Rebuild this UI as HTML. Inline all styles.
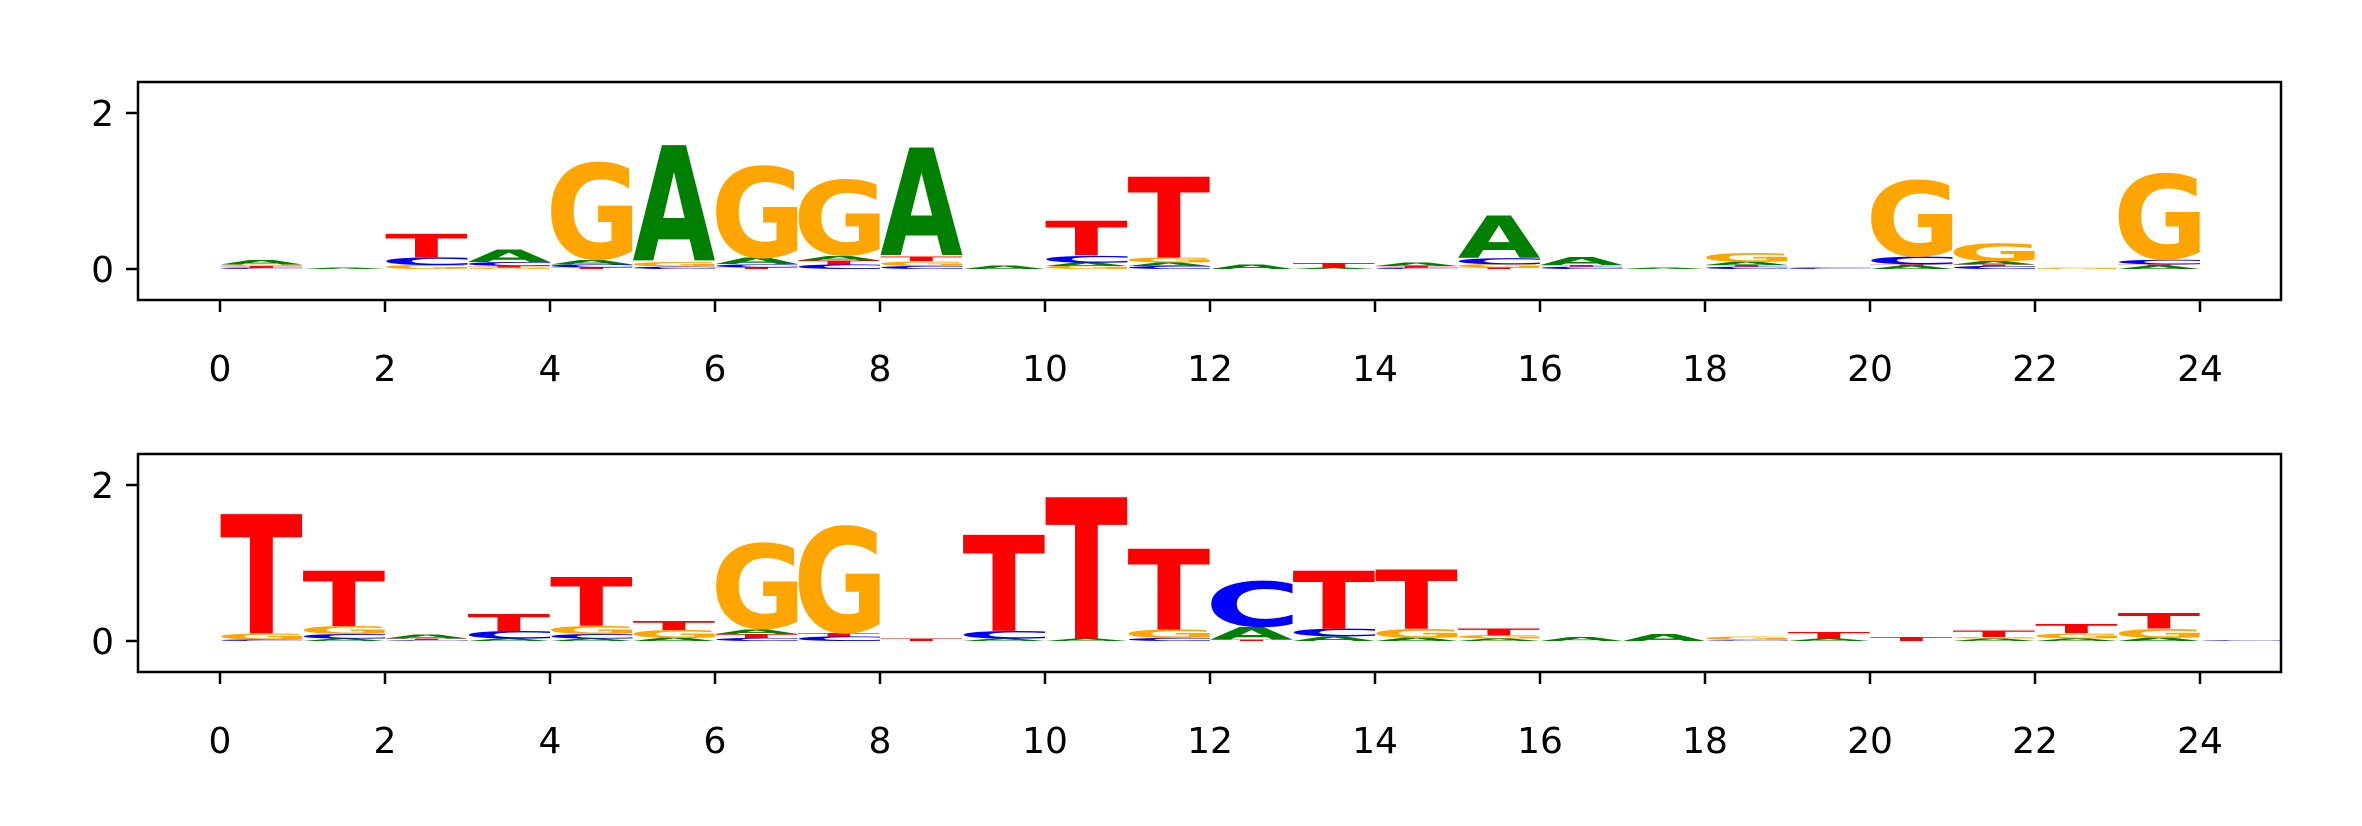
<!DOCTYPE html>
<html><head><meta charset="utf-8"><style>
html,body{margin:0;padding:0;background:#fff;}
svg{display:block;}
text{font-family:"DejaVu Sans","Liberation Sans",sans-serif;}
</style></head><body>
<svg id="chart" width="2362" height="826" viewBox="0 0 2362 826" xmlns="http://www.w3.org/2000/svg">
<rect width="2362" height="826" fill="#fff"/>
</svg>
<script>
// Tick labels
const xTicks = [0,2,4,6,8,10,12,14,16,18,20,22,24];
const yTicks = [0,2];
// Panel 1 stacks (bottom to top): [letter, height in bits]
const logo1 = [
 [["C",0.02],["T",0.02],["G",0.02],["A",0.06]],
 [["A",0.02]],
 [["G",0.05],["C",0.1],["T",0.3]],
 [["G",0.02],["T",0.02],["C",0.05],["A",0.16]],
 [["T",0.02],["C",0.04],["A",0.06],["G",1.27]],
 [["C",0.03],["G",0.06],["A",1.5]],
 [["T",0.02],["C",0.04],["A",0.08],["G",1.2]],
 [["C",0.06],["T",0.05],["A",0.06],["G",0.99]],
 [["C",0.04],["G",0.06],["T",0.06],["A",1.4]],
 [["A",0.04]],
 [["G",0.04],["A",0.04],["C",0.09],["T",0.45]],
 [["C",0.04],["A",0.04],["G",0.07],["T",1.05]],
 [["A",0.06]],
 [["A",0.02],["T",0.06]],
 [["C",0.02],["T",0.02],["A",0.04]],
 [["T",0.02],["G",0.04],["C",0.08],["A",0.55]],
 [["C",0.03],["T",0.02],["A",0.1]],
 [["A",0.02]],
 [["C",0.03],["T",0.02],["A",0.04],["G",0.12]],
 [["C",0.02]],
 [["A",0.04],["T",0.02],["C",0.1],["G",1.0]],
 [["C",0.04],["T",0.02],["A",0.04],["G",0.23]],
 [["G",0.02]],
 [["A",0.04],["T",0.02],["C",0.06],["G",1.12]],
 []
];
// Panel 2 stacks
const logo2 = [
 [["C",0.02],["G",0.08],["T",1.55]],
 [["A",0.03],["C",0.06],["G",0.1],["T",0.72]],
 [["C",0.01],["T",0.02],["A",0.05]],
 [["A",0.03],["C",0.1],["T",0.22]],
 [["A",0.03],["C",0.06],["G",0.1],["T",0.63]],
 [["A",0.04],["G",0.1],["T",0.12]],
 [["C",0.04],["T",0.05],["A",0.06],["G",1.12]],
 [["C",0.06],["T",0.04],["G",1.4]],
 [["T",0.03]],
 [["A",0.03],["C",0.1],["T",1.25]],
 [["A",0.03],["T",1.84]],
 [["C",0.04],["G",0.11],["T",1.05]],
 [["T",0.02],["A",0.16],["C",0.6]],
 [["A",0.06],["C",0.1],["T",0.75]],
 [["A",0.04],["G",0.12],["T",0.77]],
 [["A",0.03],["G",0.04],["T",0.09]],
 [["A",0.05]],
 [["A",0.09]],
 [["C",0.01],["G",0.04]],
 [["A",0.03],["T",0.08]],
 [["T",0.05]],
 [["A",0.03],["G",0.02],["T",0.08]],
 [["A",0.03],["G",0.07],["T",0.12]],
 [["A",0.04],["G",0.12],["T",0.2]],
 [["C",0.01]]
];
const NS="http://www.w3.org/2000/svg";
const svg=document.getElementById('chart');
const colors={A:"#008000",C:"#0000ff",G:"#ffa500",T:"#ff0000"};
const X0=220, XU=82.5;
function xS(v){return X0+v*XU;}
function mk(tag,attrs,parent){const e=document.createElementNS(NS,tag);for(const k in attrs)e.setAttribute(k,attrs[k]);(parent||svg).appendChild(e);return e;}
// glyph ink metrics via canvas
const cv=document.createElement('canvas').getContext('2d');
cv.font='bold 100px "DejaVu Sans"';
const fallback={A:[0,77,73,0],C:[5,68,75,1.5],G:[5,73,75,1.5],T:[0,68,73,0]};
const metrics={};
["A","C","G","T"].forEach(L=>{
  const m=cv.measureText(L);
  let l=-m.actualBoundingBoxLeft, r=m.actualBoundingBoxRight, a=m.actualBoundingBoxAscent, d=m.actualBoundingBoxDescent;
  if(!(r>l+10)||!(a>20)){const f=fallback[L];l=f[0];r=f[1];a=f[2];d=f[3];}
  metrics[L]={l:l,r:r,a:a,d:d};
});
function panel(top,data,idx){
  const bottom=top+218, y0=top+187, YU=78;
  const yS=v=>y0-v*YU;
  const g=mk('g',{});
  
  
  data.forEach((stack,i)=>{
    let base=0;
    stack.forEach(([L,h])=>{
      const yb=yS(base), hp=h*YU;
      base+=h;
      if(hp<0.3)return;
      const m=metrics[L];
      const sx=XU/(m.r-m.l), sy=hp/(m.a+m.d);
      const tx=xS(i)-m.l*sx, ty=yb-m.d*sy;
      const t=mk('text',{transform:`translate(${tx},${ty}) scale(${sx},${sy})`,x:0,y:0,'font-size':100,'font-weight':'bold',fill:colors[L]},g);
      t.textContent=L;
      
      
    });
  });
  const frame=mk('rect',{x:138,y:top,width:2143,height:218,fill:'none',stroke:'#000','stroke-width':2.5});
  
  
  xTicks.forEach(v=>{
    const l=mk('line',{x1:xS(v),x2:xS(v),y1:bottom,y2:bottom+12,stroke:'#000','stroke-width':2.5});
    
    
    const t=mk('text',{x:xS(v),y:bottom+81,'font-size':36,'text-anchor':'middle',fill:'#000'});
    t.textContent=v;
    
    
  });
  yTicks.forEach(v=>{
    const l=mk('line',{x1:126,x2:138,y1:yS(v),y2:yS(v),stroke:'#000','stroke-width':2.5});
    
    
    const t=mk('text',{x:114,y:yS(v)+13,'font-size':36,'text-anchor':'end',fill:'#000'});
    t.textContent=v;
    
    
  });
}
panel(82,logo1,1);
panel(454,logo2,2);
</script>
</body></html>
